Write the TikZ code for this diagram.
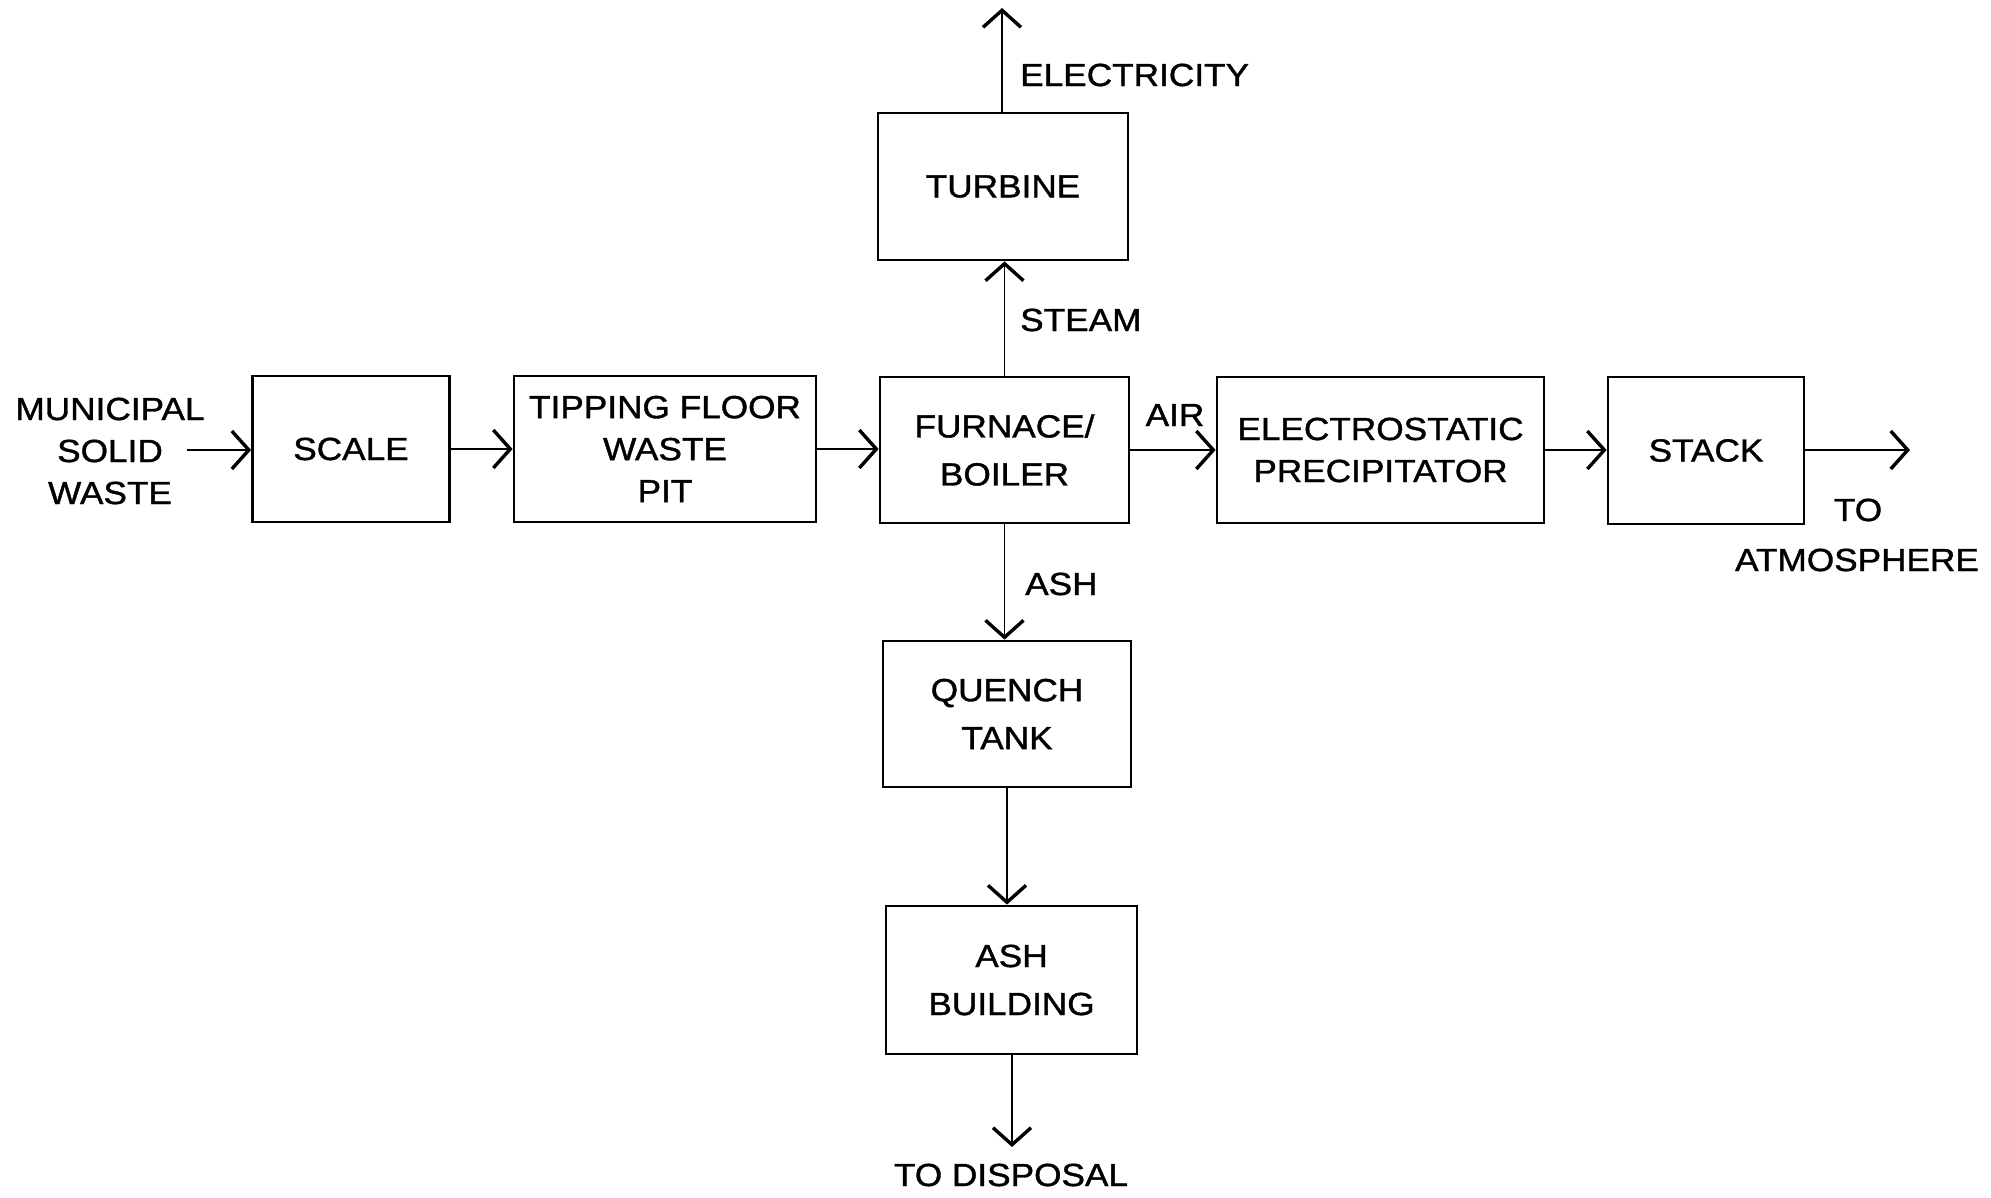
\documentclass[tikz,border=0pt]{standalone}
\usepackage{fontspec}
\setmainfont[FakeStretch=1.1,FakeBold=1.2]{Liberation Sans}
\usetikzlibrary{arrows.meta}
\begin{document}
\begin{tikzpicture}[x=1pt,y=-1pt,
  box/.style={draw,line width=2.8pt,inner sep=0pt,align=center,font=\fontsize{32}{42}\selectfont},
  lbl/.style={inner sep=0pt,font=\fontsize{32}{42}\selectfont,align=center},
  arr/.style={line width=1.8pt,-{Straight Barb[length=17pt,width=38pt,line width=3.4pt]}}]
\useasboundingbox (0,0) rectangle (1991,1197);
\node[box,minimum width=197pt,minimum height=146pt] (scale) at (351,449) {SCALE};
\node[box,minimum width=302pt,minimum height=146pt] (tip) at (665,449) {TIPPING FLOOR\\WASTE\\PIT};
\node[box,minimum width=249pt,minimum height=146pt] (furn) at (1004.5,450) {FURNACE/\\[6pt]BOILER};
\node[box,minimum width=327pt,minimum height=146pt] (esp) at (1380.5,450) {ELECTROSTATIC\\PRECIPITATOR};
\node[box,minimum width=196pt,minimum height=147pt] (stack) at (1706,450.5) {STACK};
\node[box,minimum width=250pt,minimum height=147pt] (turb) at (1003,186.5) {TURBINE};
\node[box,minimum width=248pt,minimum height=146pt] (quench) at (1007,714) {QUENCH\\[6pt]TANK};
\node[box,minimum width=251pt,minimum height=148pt] (ashb) at (1011.5,980) {ASH\\[6pt]BUILDING};

\node[lbl] (msw) at (110,451) {MUNICIPAL\\SOLID\\WASTE};
\coordinate (mswout) at (187,450);
\coordinate (elec) at (1002,8);
\coordinate (atm) at (1910,450);
\coordinate (disp) at (1012,1147);

\node[lbl,anchor=west] (lelec) at (1020,75) {ELECTRICITY};
\node[lbl,anchor=west] (lsteam) at (1020,320) {STEAM};
\node[lbl] (lair) at (1175,415) {AIR};
\node[lbl,anchor=west] (lash) at (1025,584) {ASH};
\node[lbl] (lto) at (1858,510) {TO};
\node[lbl] (latm) at (1857,560) {ATMOSPHERE};
\node[lbl] (ldisp) at (1011,1175) {TO DISPOSAL};

\draw[arr] (mswout) -- (scale.west |- mswout);
\draw[arr] (scale.east) -- (tip.west |- scale.east);
\draw[arr] (tip.east) -- (furn.west |- tip.east);
\draw[arr] (furn.east |- esp.west) -- (esp.west);
\draw[arr] (esp.east) -- (stack.west |- esp.east);
\draw[arr] (stack.east |- esp.east) -- (atm);
\draw[arr] (furn.north) -- (furn.north |- turb.south);
\draw[arr] (turb.north -| elec) -- (elec);
\draw[arr] (furn.south) -- (furn.south |- quench.north);
\draw[arr] (quench.south) -- (quench.south |- ashb.north);
\draw[arr] (ashb.south -| disp) -- (disp);
\end{tikzpicture}
\end{document}
